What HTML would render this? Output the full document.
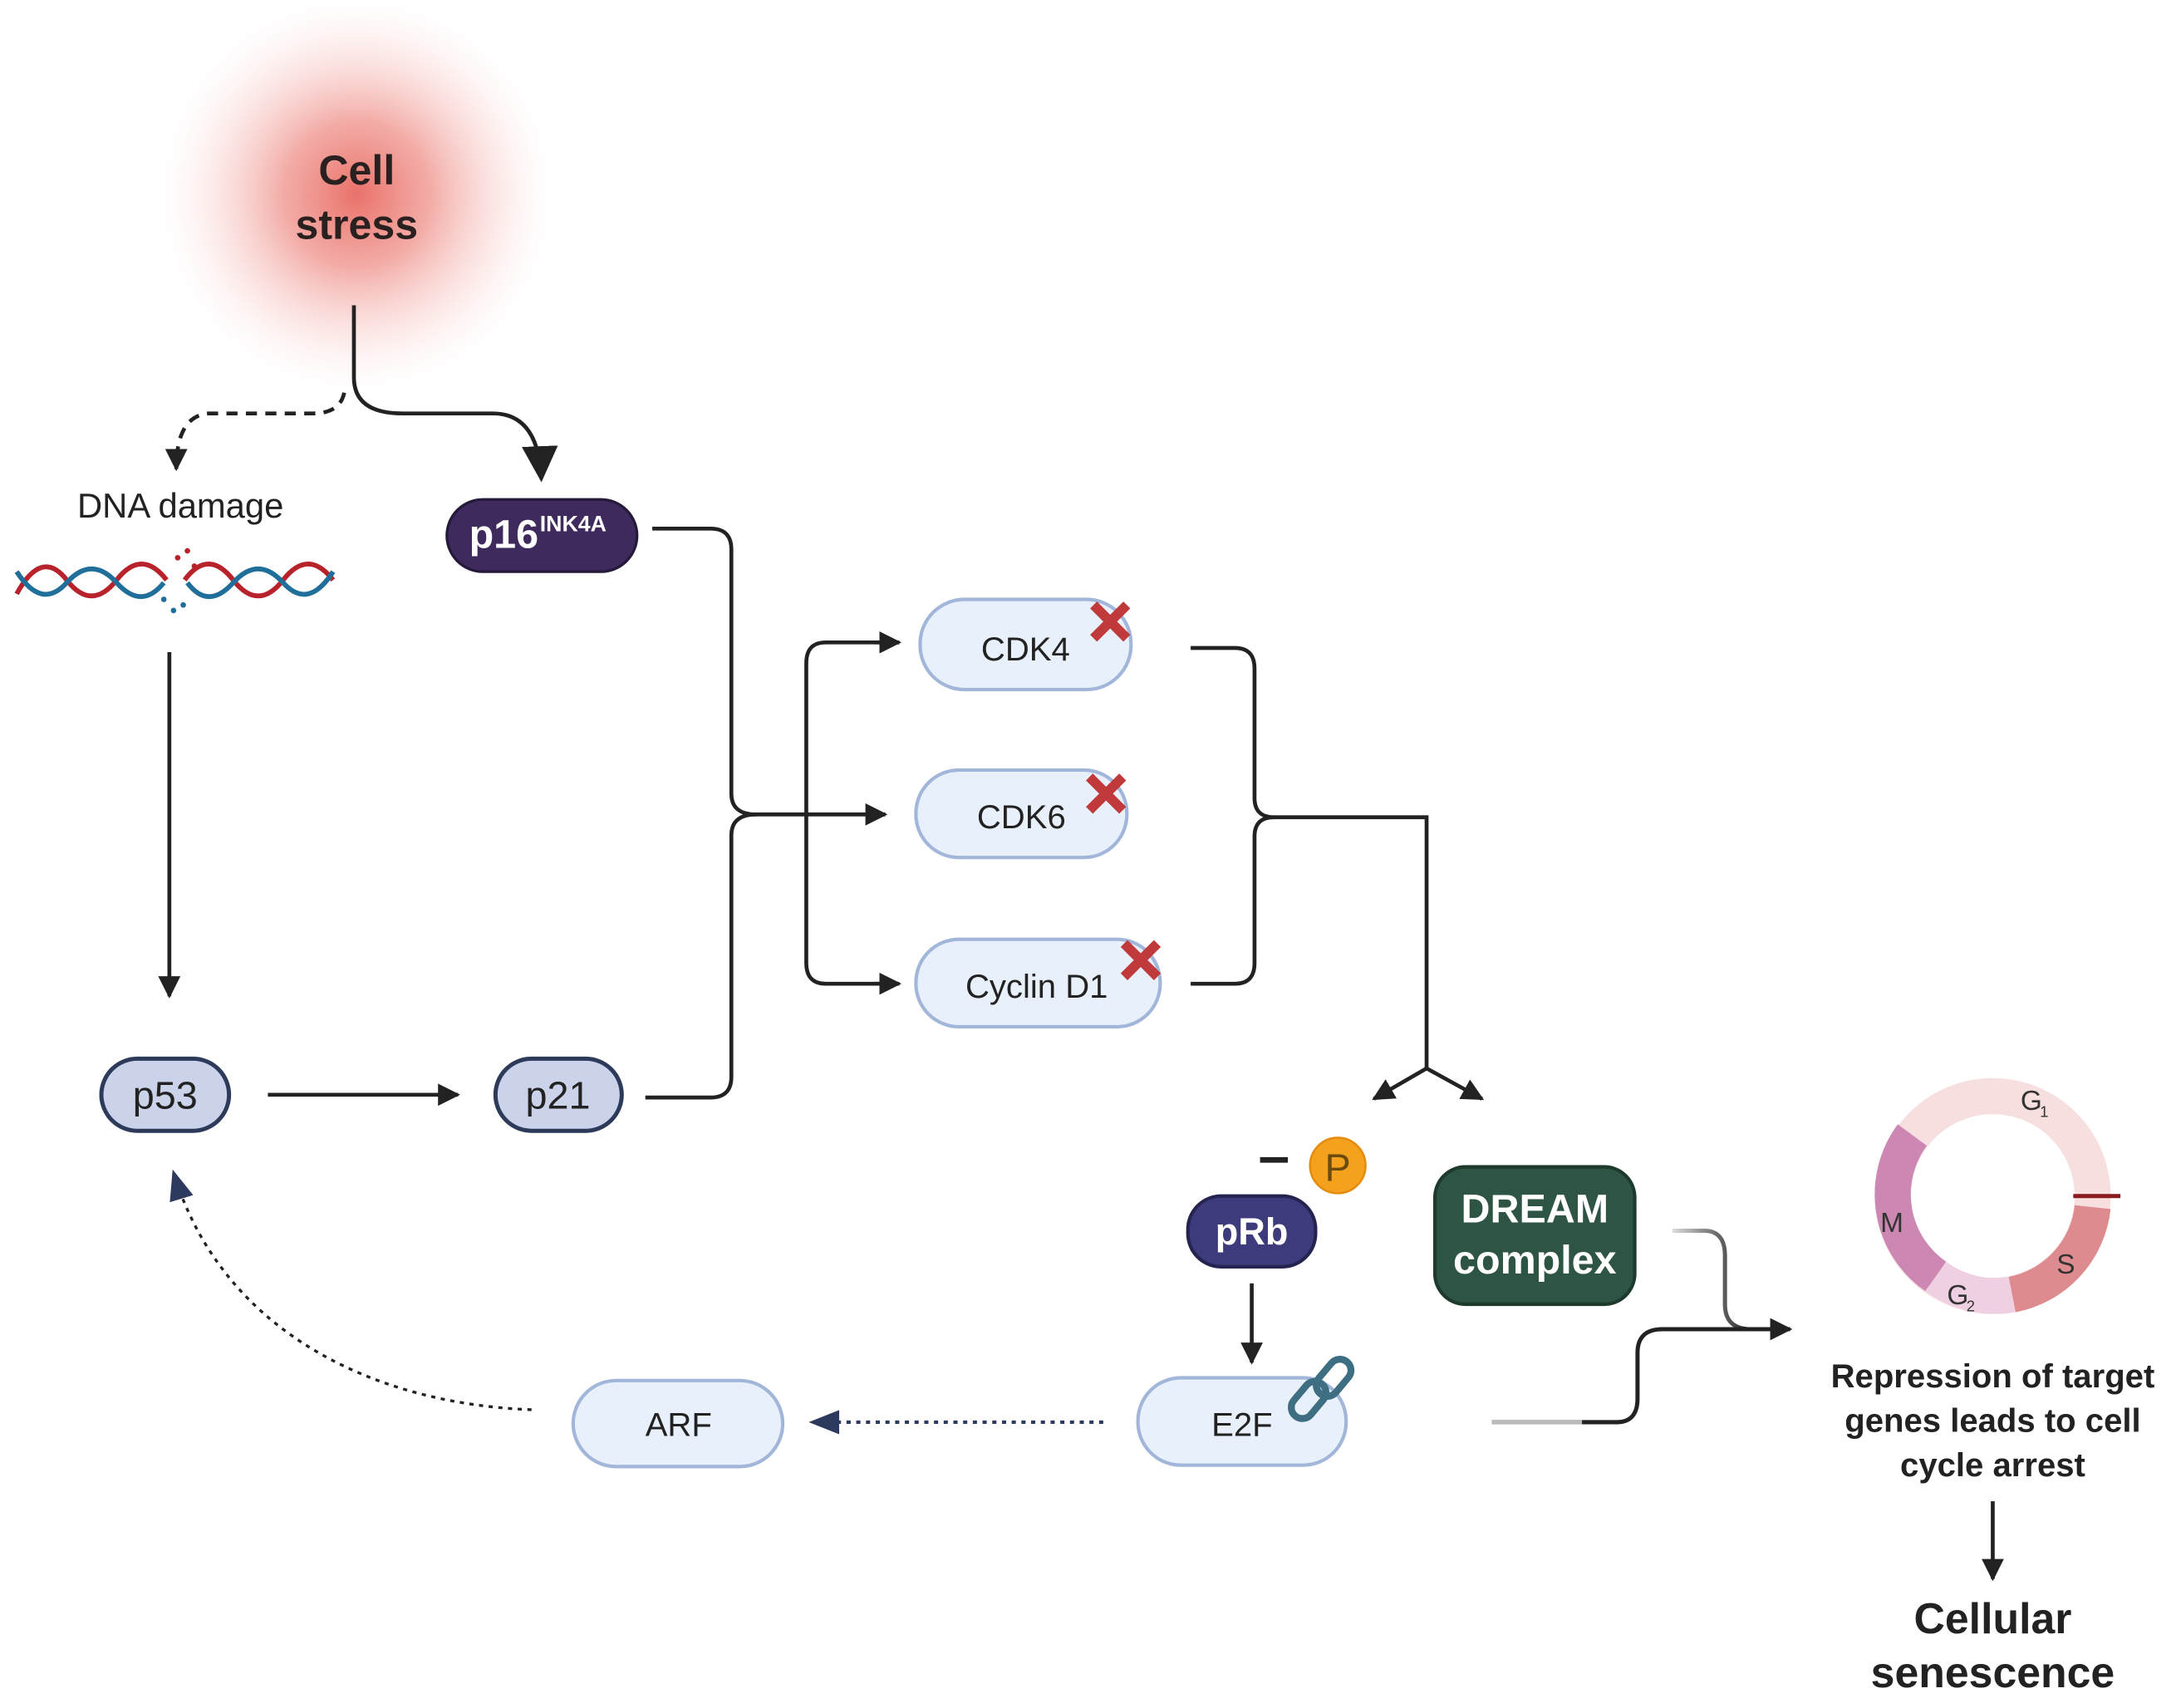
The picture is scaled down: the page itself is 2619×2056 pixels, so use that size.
<!DOCTYPE html>
<html><head><meta charset="utf-8"><style>
html,body{margin:0;padding:0;background:#fff;}
svg{display:block;}
text{font-family:"Liberation Sans",sans-serif;}
</style></head><body>
<svg width="2619" height="2056" viewBox="0 0 1568 1231" xmlns="http://www.w3.org/2000/svg">
<defs>
<radialGradient id="glow" cx="0.5" cy="0.5" r="0.5">
<stop offset="0" stop-color="#e86a62" stop-opacity="0.95"/>
<stop offset="0.35" stop-color="#ef8f88" stop-opacity="0.75"/>
<stop offset="0.7" stop-color="#f7c6c2" stop-opacity="0.35"/>
<stop offset="1" stop-color="#fff" stop-opacity="0"/>
</radialGradient>
<linearGradient id="fadeL" x1="0" x2="1"><stop offset="0" stop-color="#ddd"/><stop offset="0.5" stop-color="#777"/><stop offset="1" stop-color="#222"/></linearGradient>
<marker id="ahs" viewBox="0 0 10 10" refX="9" refY="5" markerWidth="16" markerHeight="16" orient="auto" markerUnits="userSpaceOnUse"><path d="M0,0L10,5L0,10z" fill="#222"/></marker>
<marker id="ahb" viewBox="0 0 10 10" refX="9" refY="5" markerWidth="26" markerHeight="26" orient="auto" markerUnits="userSpaceOnUse"><path d="M0,0L10,5L0,10z" fill="#222"/></marker>
<marker id="ahn" viewBox="0 0 10 10" refX="9" refY="5" markerWidth="22" markerHeight="22" orient="auto" markerUnits="userSpaceOnUse"><path d="M0,1L10,5L0,9z" fill="#2d3a5e"/></marker>
</defs>

<circle cx="257" cy="140" r="150" fill="url(#glow)"/>
<text x="257" y="133" text-anchor="middle" font-size="30" font-weight="bold" fill="#2a2020">Cell</text>
<text x="257" y="172" text-anchor="middle" font-size="30" font-weight="bold" fill="#2a2020">stress</text>

<path d="M255,220 V272 Q255,298 290,298 H355 Q388,298 390,345" fill="none" stroke="#222" stroke-width="2.8" marker-end="url(#ahb)"/>
<path d="M248,283 Q245,298 225,298 H150 Q127,300 127,338" fill="none" stroke="#222" stroke-width="2.8" stroke-dasharray="8,6" marker-end="url(#ahs)"/>

<text x="130" y="373" text-anchor="middle" font-size="25" fill="#222">DNA damage</text>
<g fill="none" stroke-width="3.5">
<path d="M12,428 Q30,395 48,418 T84,418 T120,418" stroke="#b8232b"/>
<path d="M12,412 Q30,440 48,420 T84,420 T118,420" stroke="#1f6f9a"/>
<path d="M133,418 Q150,395 168,418 T204,418 T240,418" stroke="#b8232b"/>
<path d="M135,420 Q150,440 168,420 T204,420 T240,412" stroke="#1f6f9a"/>
</g>
<g fill="#b8232b"><circle cx="128" cy="402" r="2"/><circle cx="135" cy="397" r="2"/><circle cx="140" cy="408" r="2"/></g>
<g fill="#1f6f9a"><circle cx="118" cy="432" r="2"/><circle cx="125" cy="440" r="2"/><circle cx="132" cy="436" r="2"/></g>

<path d="M122,470 V718" stroke="#222" stroke-width="2.8" marker-end="url(#ahs)"/>

<rect x="73" y="763" width="92" height="52" rx="26" fill="#cad3ea" stroke="#2d3a5a" stroke-width="3"/>
<text x="119" y="799" text-anchor="middle" font-size="28" fill="#222">p53</text>
<path d="M193,789 H330" stroke="#222" stroke-width="2.8" marker-end="url(#ahs)"/>
<rect x="357" y="763" width="91" height="52" rx="26" fill="#cad3ea" stroke="#2d3a5a" stroke-width="3"/>
<text x="402" y="799" text-anchor="middle" font-size="28" fill="#222">p21</text>

<rect x="322" y="360" width="137" height="52" rx="26" fill="#3f2a5e" stroke="#261a3a" stroke-width="2"/>
<text x="338" y="395" font-size="29" font-weight="bold" fill="#fff">p16</text>
<text x="389" y="383" font-size="16" font-weight="bold" fill="#fff">INK4A</text>

<path d="M470,381 H512 Q527,381 527,396 V572 Q527,587 545,587" fill="none" stroke="#222" stroke-width="2.8"/>
<path d="M465,791 H512 Q527,791 527,776 V602 Q527,587 545,587 H638" fill="none" stroke="#222" stroke-width="2.8" marker-end="url(#ahs)"/>
<path d="M648,463 H595 Q581,463 581,478 V694 Q581,709 595,709 H646" fill="none" stroke="#222" stroke-width="2.8"/>
<path d="M630,463 H648" stroke="#222" stroke-width="2.8" marker-end="url(#ahs)"/>
<path d="M630,709 H648" stroke="#222" stroke-width="2.8" marker-end="url(#ahs)"/>

<g fill="#e8f0fb" stroke="#a2b6da" stroke-width="2.5">
<rect x="663" y="432" width="152" height="65" rx="32"/>
<rect x="660" y="555" width="152" height="63" rx="31"/>
<rect x="660" y="677" width="176" height="63" rx="31"/>
</g>
<text x="739" y="476" text-anchor="middle" font-size="24" fill="#222">CDK4</text>
<text x="736" y="597" text-anchor="middle" font-size="24" fill="#222">CDK6</text>
<text x="747" y="719" text-anchor="middle" font-size="24" fill="#222">Cyclin D1</text>
<g stroke="#c0393b" stroke-width="7">
<path d="M788,436 L812,460 M812,436 L788,460"/>
<path d="M785,560 L809,584 M809,560 L785,584"/>
<path d="M810,680 L834,704 M834,680 L810,704"/>
</g>

<path d="M858,467 H890 Q904,467 904,482 V575 Q904,589 918,589 H1028 V770" fill="none" stroke="#222" stroke-width="2.8"/>
<path d="M858,709 H890 Q904,709 904,694 V603 Q904,589 918,589" fill="none" stroke="#222" stroke-width="2.8"/>
<path d="M1028,770 L990,792" stroke="#222" stroke-width="2.8" marker-end="url(#ahs)"/>
<path d="M1028,770 L1068,792" stroke="#222" stroke-width="2.8" marker-end="url(#ahs)"/>

<path d="M908,836 H928" stroke="#222" stroke-width="4"/>
<circle cx="964" cy="840" r="20" fill="#f4a21d" stroke="#e58b0c" stroke-width="1.5"/>
<text x="964" y="851" text-anchor="middle" font-size="28" fill="#6b4a10">P</text>
<rect x="856" y="862" width="92" height="51" rx="24" fill="#3d3b7c" stroke="#25234f" stroke-width="2.5"/>
<text x="902" y="897" text-anchor="middle" font-size="27" font-weight="bold" fill="#fff">pRb</text>
<path d="M902,925 V982" stroke="#222" stroke-width="2.8" marker-end="url(#ahs)"/>

<rect x="820" y="993" width="150" height="63" rx="31" fill="#e8f0fb" stroke="#a2b6da" stroke-width="2.5"/>
<text x="895" y="1035" text-anchor="middle" font-size="24" fill="#222">E2F</text>
<g fill="none" stroke="#3d6e82" stroke-width="5">
<rect x="935" y="994" width="16" height="30" rx="8" transform="rotate(40 943 1009)"/>
<rect x="953" y="978" width="16" height="30" rx="8" transform="rotate(40 961 993)"/>
</g>

<path d="M795,1025 H585" stroke="#2d3a5e" stroke-width="2.5" stroke-dasharray="3,4" marker-end="url(#ahn)"/>
<rect x="413" y="995" width="151" height="62" rx="31" fill="#e8f0fb" stroke="#a2b6da" stroke-width="2.5"/>
<text x="489" y="1035" text-anchor="middle" font-size="24" fill="#222">ARF</text>
<path d="M383,1016 C270,1012 160,960 125,845" fill="none" stroke="#222" stroke-width="2" stroke-dasharray="3,4" marker-end="url(#ahn)"/>

<rect x="1034" y="841" width="144" height="99" rx="22" fill="#2e5443" stroke="#1d3a2d" stroke-width="2.5"/>
<text x="1106" y="881" text-anchor="middle" font-size="29" font-weight="bold" fill="#fff">DREAM</text>
<text x="1106" y="918" text-anchor="middle" font-size="29" font-weight="bold" fill="#fff">complex</text>

<path d="M1205,887 H1228 Q1243,887 1243,905 V940 Q1243,958 1262,958" fill="none" stroke="url(#fadeL)" stroke-width="3"/>
<path d="M1075,1025 H1165 Q1180,1025 1180,1008 V975 Q1180,958 1198,958 H1290" fill="none" stroke="#222" stroke-width="3" marker-end="url(#ahs)"/>
<path d="M1075,1025 H1140" stroke="#bbb" stroke-width="3.2"/>

<circle cx="1436" cy="862" r="72" fill="none" stroke="#f7dfe0" stroke-width="26"/>
<path d="M1378,818 A72,72 0 0 0 1395,920" fill="none" stroke="#cc88b2" stroke-width="26"/>
<path d="M1395,920 A72,72 0 0 0 1450,933" fill="none" stroke="#efd0e2" stroke-width="26"/>
<path d="M1450,933 A72,72 0 0 0 1508,870" fill="none" stroke="#dd8b8e" stroke-width="26"/>
<path d="M1494,862 H1528" stroke="#8a1c20" stroke-width="3"/>
<text x="1456" y="800" font-size="20" fill="#333">G</text><text x="1470" y="805" font-size="11" fill="#333">1</text>
<text x="1355" y="888" font-size="20" fill="#333">M</text>
<text x="1482" y="918" font-size="20" fill="#333">S</text>
<text x="1403" y="940" font-size="20" fill="#333">G</text><text x="1417" y="945" font-size="11" fill="#333">2</text>

<g font-size="24" font-weight="bold" fill="#222" text-anchor="middle">
<text x="1436" y="1000">Repression of target</text>
<text x="1436" y="1032">genes leads to cell</text>
<text x="1436" y="1064">cycle arrest</text>
</g>
<path d="M1436,1082 V1138" stroke="#222" stroke-width="2.8" marker-end="url(#ahs)"/>
<text x="1436" y="1177" text-anchor="middle" font-size="31" font-weight="bold" fill="#222">Cellular</text>
<text x="1436" y="1216" text-anchor="middle" font-size="31" font-weight="bold" fill="#222">senescence</text>
</svg>
</body></html>
